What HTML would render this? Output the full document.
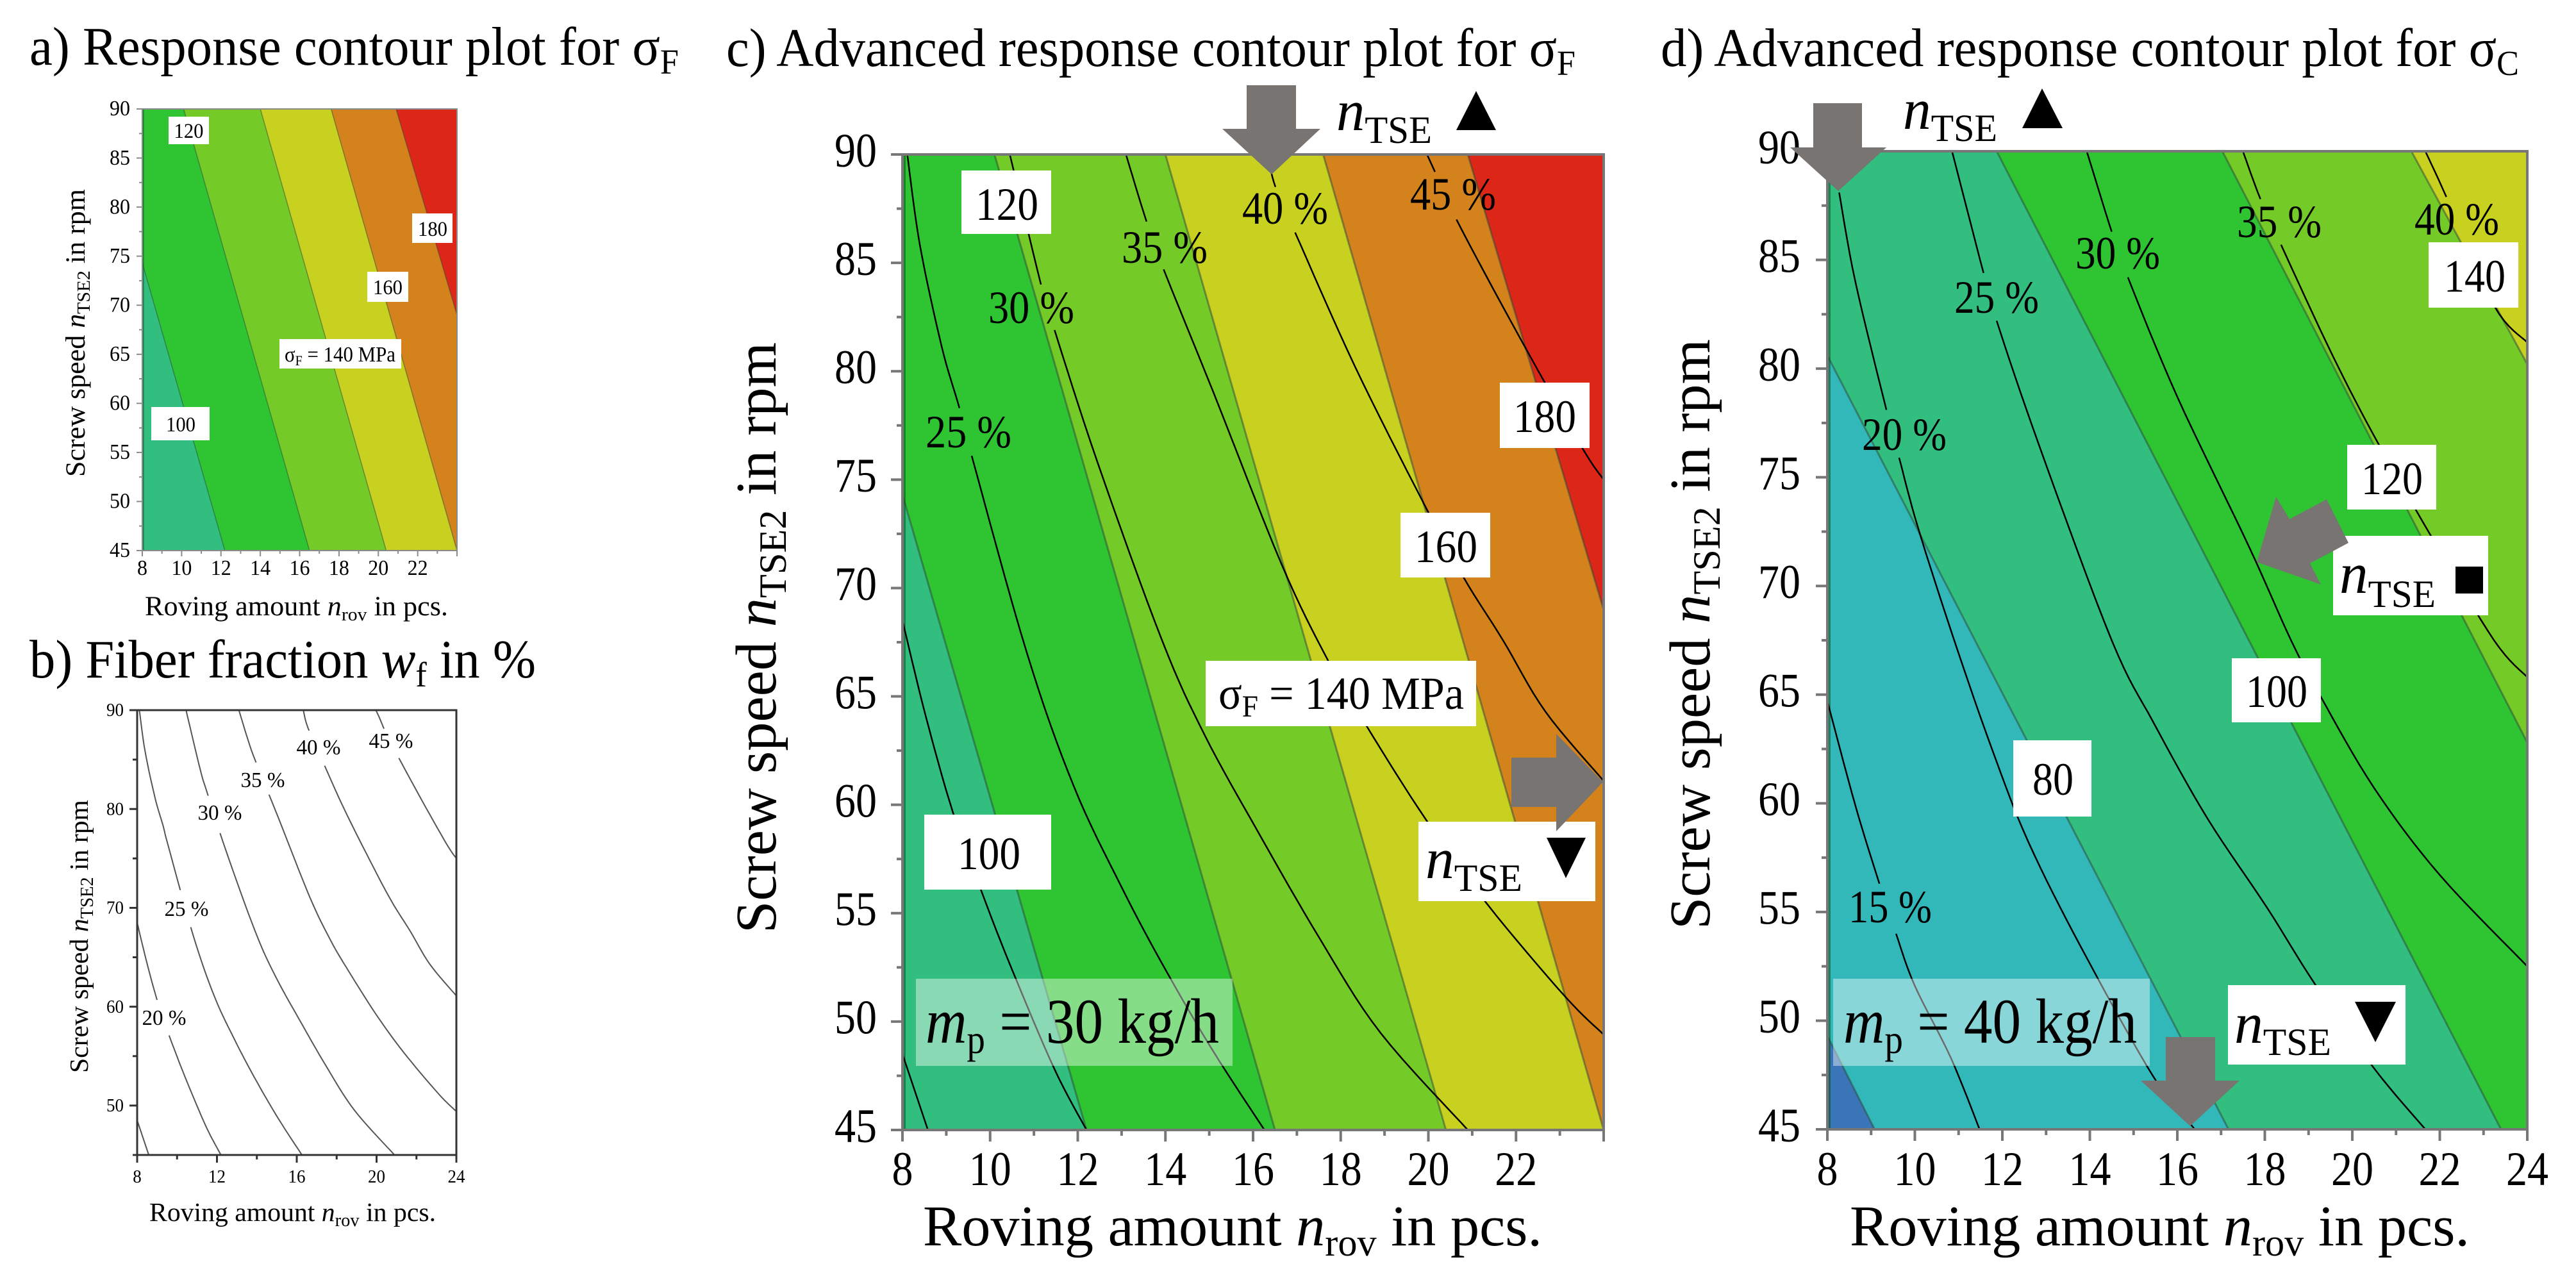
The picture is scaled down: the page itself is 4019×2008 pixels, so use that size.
<!DOCTYPE html>
<html lang="en">
<head>
<meta charset="utf-8">
<title>Response contour plots</title>
<style>
html,body{margin:0;padding:0;background:#fff;width:4019px;height:2008px;overflow:hidden}
svg{display:block}
text{font-family:"Liberation Serif","DejaVu Serif",serif;fill:#000}
.it{font-style:italic}
</style>
</head>
<body>
<svg id="figure" xmlns="http://www.w3.org/2000/svg" width="4019" height="2008" viewBox="0 0 4019 2008">
<rect width="4019" height="2008" fill="#fff"/>

<!-- PANEL A -->
<g>
  <text x="46" y="101" font-size="85" textLength="1013" lengthAdjust="spacingAndGlyphs">a) Response contour plot for σ<tspan font-size="55" dy="14">F</tspan></text>
  <g id="a-bands"></g>
  <g id="a-axes"></g>
  <text transform="translate(132 744) rotate(-90)" font-size="43" textLength="449" lengthAdjust="spacingAndGlyphs">Screw speed <tspan class="it">n</tspan><tspan font-size="29" dy="8">TSE2</tspan><tspan dy="-8"> in rpm</tspan></text>
  <text x="226" y="960" font-size="43" textLength="473" lengthAdjust="spacingAndGlyphs">Roving amount <tspan class="it">n</tspan><tspan font-size="29" dy="8">rov</tspan><tspan dy="-8"> in pcs.</tspan></text>
  <g><rect x="263" y="182" width="63" height="43" fill="#fff"/><text x="294.5" y="204" dy=".33em" text-anchor="middle" font-size="33" textLength="46" lengthAdjust="spacingAndGlyphs">120</text></g>
  <g><rect x="643" y="333" width="63" height="46" fill="#fff"/><text x="675" y="357" dy=".33em" text-anchor="middle" font-size="33" textLength="46" lengthAdjust="spacingAndGlyphs">180</text></g>
  <g><rect x="573" y="424" width="64" height="47" fill="#fff"/><text x="605" y="448" dy=".33em" text-anchor="middle" font-size="33" textLength="46" lengthAdjust="spacingAndGlyphs">160</text></g>
  <g><rect x="436" y="529" width="190" height="46" fill="#fff"/><text x="444" y="564" font-size="34" textLength="173" lengthAdjust="spacingAndGlyphs">σ<tspan font-size="22" dy="6">F</tspan><tspan dy="-6"> = 140 MPa</tspan></text></g>
  <g><rect x="236" y="635" width="91" height="52" fill="#fff"/><text x="282" y="662" dy=".33em" text-anchor="middle" font-size="33" textLength="46" lengthAdjust="spacingAndGlyphs">100</text></g>
</g>

<!-- PANEL B -->
<g>
  <text x="46" y="1057" font-size="85" textLength="790" lengthAdjust="spacingAndGlyphs">b) Fiber fraction <tspan class="it">w</tspan><tspan font-size="55" dy="14">f</tspan><tspan dy="-14"> in %</tspan></text>
  <g id="b-lines"></g>
  <g id="b-axes"></g>
  <text transform="translate(137 1674) rotate(-90)" font-size="41" textLength="426" lengthAdjust="spacingAndGlyphs">Screw speed <tspan class="it">n</tspan><tspan font-size="28" dy="8">TSE2</tspan><tspan dy="-8"> in rpm</tspan></text>
  <text x="233" y="1905" font-size="41" textLength="447" lengthAdjust="spacingAndGlyphs">Roving amount <tspan class="it">n</tspan><tspan font-size="28" dy="8">rov</tspan><tspan dy="-8"> in pcs.</tspan></text>
  <text x="256" y="1588" dy=".33em" text-anchor="middle" font-size="34" textLength="69" lengthAdjust="spacingAndGlyphs">20 %</text>
  <text x="291" y="1418" dy=".33em" text-anchor="middle" font-size="34" textLength="69" lengthAdjust="spacingAndGlyphs">25 %</text>
  <text x="343" y="1268" dy=".33em" text-anchor="middle" font-size="34" textLength="69" lengthAdjust="spacingAndGlyphs">30 %</text>
  <text x="410" y="1217" dy=".33em" text-anchor="middle" font-size="34" textLength="69" lengthAdjust="spacingAndGlyphs">35 %</text>
  <text x="497" y="1166" dy=".33em" text-anchor="middle" font-size="34" textLength="69" lengthAdjust="spacingAndGlyphs">40 %</text>
  <text x="610" y="1156" dy=".33em" text-anchor="middle" font-size="34" textLength="69" lengthAdjust="spacingAndGlyphs">45 %</text>
</g>

<!-- PANEL C -->
<g>
  <text x="1133" y="103" font-size="85" textLength="1325" lengthAdjust="spacingAndGlyphs">c) Advanced response contour plot for σ<tspan font-size="55" dy="14">F</tspan></text>
  <g id="c-bands"></g>
  <g id="c-lines"></g>
  <g id="c-axes"></g>
  <text transform="translate(1210 1456) rotate(-90)" font-size="90" textLength="922" lengthAdjust="spacingAndGlyphs">Screw speed <tspan class="it">n</tspan><tspan font-size="60" dy="16">TSE2</tspan><tspan dy="-16"> in rpm</tspan></text>
  <text x="1440" y="1943" font-size="90" textLength="966" lengthAdjust="spacingAndGlyphs">Roving amount <tspan class="it">n</tspan><tspan font-size="60" dy="16">rov</tspan><tspan dy="-16"> in pcs.</tspan></text>
  <text x="1511" y="674" dy=".33em" text-anchor="middle" font-size="72" textLength="134" lengthAdjust="spacingAndGlyphs">25 %</text>
  <text x="1609" y="480" dy=".33em" text-anchor="middle" font-size="72" textLength="134" lengthAdjust="spacingAndGlyphs">30 %</text>
  <text x="1817" y="386" dy=".33em" text-anchor="middle" font-size="72" textLength="134" lengthAdjust="spacingAndGlyphs">35 %</text>
  <text x="2005" y="325" dy=".33em" text-anchor="middle" font-size="72" textLength="134" lengthAdjust="spacingAndGlyphs">40 %</text>
  <text x="2267" y="303" dy=".33em" text-anchor="middle" font-size="72" textLength="134" lengthAdjust="spacingAndGlyphs">45 %</text>
  <g><rect x="1500" y="266" width="140" height="99" fill="#fff"/><text x="1571" y="319" dy=".33em" text-anchor="middle" font-size="72" textLength="98" lengthAdjust="spacingAndGlyphs">120</text></g>
  <g><rect x="2340" y="597" width="140" height="102" fill="#fff"/><text x="2410" y="650" dy=".33em" text-anchor="middle" font-size="72" textLength="98" lengthAdjust="spacingAndGlyphs">180</text></g>
  <g><rect x="2185" y="800" width="140" height="101" fill="#fff"/><text x="2256" y="853" dy=".33em" text-anchor="middle" font-size="72" textLength="98" lengthAdjust="spacingAndGlyphs">160</text></g>
  <g><rect x="1881" y="1031" width="422" height="102" fill="#fff"/><text x="1901" y="1106" font-size="72" textLength="383" lengthAdjust="spacingAndGlyphs">σ<tspan font-size="48" dy="12">F</tspan><tspan dy="-12"> = 140 MPa</tspan></text></g>
  <g><rect x="1442" y="1271" width="198" height="117" fill="#fff"/><text x="1543" y="1332" dy=".33em" text-anchor="middle" font-size="72" textLength="98" lengthAdjust="spacingAndGlyphs">100</text></g>
  <g><rect x="1429" y="1527" width="494" height="136" fill="#fff" fill-opacity=".42"/><text x="1444" y="1627" font-size="100" textLength="458" lengthAdjust="spacingAndGlyphs"><tspan class="it">m</tspan><tspan font-size="64" dy="16">p</tspan><tspan dy="-16"> = 30 kg/h</tspan></text></g>
  <polygon points="1945,133 2022,133 2022,201 2060,201 1984,272 1907,201 1945,201" fill="#787472"/>
  <text x="2085" y="203" font-size="90" textLength="149" lengthAdjust="spacingAndGlyphs"><tspan class="it">n</tspan><tspan font-size="60" dy="20">TSE</tspan></text>
  <polygon points="2303,142 2334,203 2272,203" fill="#000"/>
  <g><rect x="2213" y="1282" width="276" height="124" fill="#fff"/><text x="2224" y="1370" font-size="90" textLength="151" lengthAdjust="spacingAndGlyphs"><tspan class="it">n</tspan><tspan font-size="60" dy="20">TSE</tspan></text><polygon points="2413,1307 2474,1307 2443,1370" fill="#000"/></g>
  <polygon points="2358,1182 2428,1182 2428,1145 2501,1220 2428,1297 2428,1259 2358,1259" fill="#787472"/>
</g>

<!-- PANEL D -->
<g>
  <text x="2591" y="103" font-size="85" textLength="1339" lengthAdjust="spacingAndGlyphs">d) Advanced response contour plot for σ<tspan font-size="55" dy="14">C</tspan></text>
  <g id="d-bands"></g>
  <g id="d-lines"></g>
  <g id="d-axes"></g>
  <text transform="translate(2667 1450) rotate(-90)" font-size="90" textLength="921" lengthAdjust="spacingAndGlyphs">Screw speed <tspan class="it">n</tspan><tspan font-size="60" dy="16">TSE2</tspan><tspan dy="-16"> in rpm</tspan></text>
  <text x="2886" y="1943" font-size="90" textLength="967" lengthAdjust="spacingAndGlyphs">Roving amount <tspan class="it">n</tspan><tspan font-size="60" dy="16">rov</tspan><tspan dy="-16"> in pcs.</tspan></text>
  <text x="2949" y="1415" dy=".33em" text-anchor="middle" font-size="72" textLength="130" lengthAdjust="spacingAndGlyphs">15 %</text>
  <text x="2971" y="678" dy=".33em" text-anchor="middle" font-size="72" textLength="132" lengthAdjust="spacingAndGlyphs">20 %</text>
  <text x="3115" y="464" dy=".33em" text-anchor="middle" font-size="72" textLength="132" lengthAdjust="spacingAndGlyphs">25 %</text>
  <text x="3304" y="395" dy=".33em" text-anchor="middle" font-size="72" textLength="132" lengthAdjust="spacingAndGlyphs">30 %</text>
  <text x="3556" y="346" dy=".33em" text-anchor="middle" font-size="72" textLength="132" lengthAdjust="spacingAndGlyphs">35 %</text>
  <text x="3833" y="342" dy=".33em" text-anchor="middle" font-size="72" textLength="132" lengthAdjust="spacingAndGlyphs">40 %</text>
  <g><rect x="3789" y="378" width="140" height="102" fill="#fff"/><text x="3861" y="431" dy=".33em" text-anchor="middle" font-size="72" textLength="96" lengthAdjust="spacingAndGlyphs">140</text></g>
  <g><rect x="3662" y="694" width="139" height="101" fill="#fff"/><text x="3732" y="747" dy=".33em" text-anchor="middle" font-size="72" textLength="96" lengthAdjust="spacingAndGlyphs">120</text></g>
  <g><rect x="3482" y="1027" width="139" height="100" fill="#fff"/><text x="3552" y="1079" dy=".33em" text-anchor="middle" font-size="72" textLength="96" lengthAdjust="spacingAndGlyphs">100</text></g>
  <g><rect x="3141" y="1155" width="122" height="119" fill="#fff"/><text x="3203" y="1216" dy=".33em" text-anchor="middle" font-size="72" textLength="64" lengthAdjust="spacingAndGlyphs">80</text></g>
  <g><rect x="2860" y="1527" width="494" height="136" fill="#fff" fill-opacity=".42"/><text x="2876" y="1627" font-size="100" textLength="458" lengthAdjust="spacingAndGlyphs"><tspan class="it">m</tspan><tspan font-size="64" dy="16">p</tspan><tspan dy="-16"> = 40 kg/h</tspan></text></g>
  <polygon points="2829,161 2905,161 2905,230 2943,230 2868,298 2793,230 2829,230" fill="#787472"/>
  <text x="2969" y="201" font-size="90" textLength="147" lengthAdjust="spacingAndGlyphs"><tspan class="it">n</tspan><tspan font-size="60" dy="19">TSE</tspan></text>
  <polygon points="3186,138 3218,200 3155,200" fill="#000"/>
  <g><rect x="3640" y="836" width="242" height="124" fill="#fff"/><text x="3650" y="925" font-size="90" textLength="150" lengthAdjust="spacingAndGlyphs"><tspan class="it">n</tspan><tspan font-size="60" dy="22">TSE</tspan></text><rect x="3831" y="884" width="43" height="42" fill="#000"/></g>
  <polygon points="3521,877 3551,775 3572,810 3630,779 3664,847 3604,879 3621,912" fill="#787472"/>
  <g><rect x="3476" y="1537" width="277" height="124" fill="#fff"/><text x="3486" y="1627" font-size="90" textLength="151" lengthAdjust="spacingAndGlyphs"><tspan class="it">n</tspan><tspan font-size="60" dy="19">TSE</tspan></text><polygon points="3674,1563 3738,1563 3706,1626" fill="#000"/></g>
  <polygon points="3379,1618 3456,1618 3456,1686 3494,1686 3417,1757 3340,1686 3379,1686" fill="#787472"/>
</g>

<script>
// ---- axis ticks (data units) ----
const xMajorTicks = [8, 10, 12, 14, 16, 18, 20, 22, 24];
const xMinorTicks = [9, 11, 13, 15, 17, 19, 21, 23];
const yMajorTicks = [45, 50, 55, 60, 65, 70, 75, 80, 85, 90];
const yMinorTicks = [47.5, 52.5, 57.5, 62.5, 67.5, 72.5, 77.5, 82.5, 87.5];
const xLabelsNoEnd = [8, 10, 12, 14, 16, 18, 20, 22];
const xLabelsFull = [8, 10, 12, 14, 16, 18, 20, 22, 24];
const yLabelsFull = [45, 50, 55, 60, 65, 70, 75, 80, 85, 90];
const fiberXMajorTicks = [8, 12, 16, 20, 24];
const fiberXMinorTicks = [10, 14, 18, 22];
const fiberYMajorTicks = [50, 60, 70, 80, 90];
const fiberYMinorTicks = [45, 55, 65, 75, 85];
const fiberXLabels = [8, 12, 16, 20, 24];
const fiberYLabels = [50, 60, 70, 80, 90];

// ---- sigma_F iso-strength boundaries [rovings, rpm] ----
const flexural100 = [[8, 74.3], [12.2, 45]];
const flexural120 = [[10.1, 90], [16.5, 45]];
const flexural140 = [[14, 90], [20.4, 45]];
const flexural160 = [[17.6, 90], [24, 45]];
const flexural180 = [[20.9, 90], [24, 69]];

// ---- sigma_C iso-strength boundaries [rovings, rpm] ----
const compress60 = [[8, 49.3], [9.08, 45]];
const compress80 = [[8, 80.6], [17.17, 45]];
const compress100 = [[11.87, 90], [23.4, 45]];
const compress120 = [[17.03, 90], [24, 62.8]];
const compress140 = [[21.35, 90], [24, 80.2]];

// ---- fibre fraction isolines for m_p = 30 kg/h [rovings, rpm] ----
const fiberF15 = [[8, 48.5], [8.58, 45]];
const fiberF20 = [[8, 68.5], [8.53, 64.1], [9.16, 59.6], [9.86, 55.7], [10.5, 52.4], [11.47, 47.8], [12.2, 45]];
const fiberF25 = [[8.11, 90], [8.4, 85.8], [8.9, 81.1], [9.3, 78.3], [9.58, 76.1], [10.84, 67], [11.9, 60.9], [13, 56.2], [14, 52.4], [15.1, 48.6], [16.26, 45]];
const fiberF30 = [[10.45, 90], [11.16, 84], [11.47, 81.9], [12.45, 75.8], [13.92, 67.6], [14.9, 63.2], [16.1, 58.8], [17.5, 53.9], [18.9, 49.5], [20.9, 45]];
const fiberF35 = [[13.1, 90], [13.57, 86.9], [13.96, 84.7], [15.1, 79], [16.65, 71.1], [17.7, 66.7], [18.6, 63.6], [19.95, 59.3], [21.35, 55.4], [23.1, 51.2], [24, 49.4]];
const fiberF40 = [[16.33, 90], [16.51, 88.5], [16.96, 86.4], [18.33, 80.2], [19.87, 74], [20.8, 70.5], [21.7, 67.6], [22.67, 64.3], [24, 61.1]];
const fiberF45 = [[19.97, 90], [20.15, 89.2], [20.64, 87], [22.1, 81.5], [23.5, 76.5], [24, 75]];

// ---- fibre fraction isolines for m_p = 40 kg/h [rovings, rpm] ----
const fiberC15 = [[8, 64.7], [8.64, 59.9], [9.19, 56.3], [9.57, 54], [10, 51.6], [10.82, 48.3], [11.48, 45]];
const fiberC20 = [[8.27, 88.1], [8.64, 84], [9.35, 78.1], [9.64, 75.9], [10.07, 72.7], [10.9, 67.5], [11.78, 62.4], [12.6, 58.2], [13.82, 53.3], [15.46, 47.4], [16.4, 45]];
const fiberC25 = [[10.85, 90], [11.57, 84.4], [11.87, 82.2], [12.87, 76.3], [14.5, 67.5], [15.46, 63.7], [16.69, 59.3], [18.05, 55.2], [19.14, 51.7], [20.5, 47.8], [21.67, 45]];
const fiberC30 = [[13.93, 90], [14.5, 86.3], [14.87, 84.2], [16, 78.7], [17.64, 71.8], [18.6, 67.5], [19.28, 64.9], [20.5, 60.7], [22, 56.7], [24, 52.5]];
const fiberC35 = [[17.5, 90], [17.9, 87.8], [18.37, 85.7], [19.55, 80.6], [20.58, 76.6], [21.8, 72.3], [23.24, 67.5], [24, 65.8]];
const fiberC40 = [[21.67, 90], [22.15, 87.9], [23.24, 82.9], [24, 81.2]];

// ---- rpm ranges where an isoline is interrupted by its label ----
const gapsPanelB = [null, [60.5, 57.3], [71.1, 68.5], [80.9, 78.3], [84.3, 81.7], [87.8, 84.9], [88.1, 85.5]];
const gapsPanelC = [null, null, [78.3, 76.1], [84, 81.9], [86.9, 84.7], [88.5, 86.4], [89.2, 87]];
const gapsPanelD = [[56.3, 54], [78.1, 75.9], [84.4, 82.2], [86.3, 84.2], [87.8, 85.7], [87.9, 84]];

const SVGNS = 'http://www.w3.org/2000/svg';
const xDomain = [8, 24];
const yDomain = [45, 90];

function makeScales(left, right, top, bottom) {
  return {
    left, right, top, bottom,
    x: v => left + (v - xDomain[0]) / (xDomain[1] - xDomain[0]) * (right - left),
    y: v => bottom - (v - yDomain[0]) / (yDomain[1] - yDomain[0]) * (bottom - top)
  };
}
const scaleA = makeScales(222, 713, 170, 859);
const scaleB = makeScales(214, 712, 1108, 1802);
const scaleC = makeScales(1408, 2502, 241, 1763);
const scaleD = makeScales(2851, 3943, 236, 1762);

function makeSvg(tag, attrs) {
  const node = document.createElementNS(SVGNS, tag);
  for (const key in attrs) node.setAttribute(key, attrs[key]);
  return node;
}

function drawBands(groupId, s, baseColor, boundaries, colors, strokeWidth) {
  const g = document.getElementById(groupId);
  const base = makeSvg('rect', {x: s.left, y: s.top, width: s.right - s.left, height: s.bottom - s.top, fill: baseColor});
  
  
  g.appendChild(base);
  boundaries.forEach((line, i) => {
    const outline = line.concat([[24, 45], [24, 90], [8, 90]]);
    const band = makeSvg('polygon', {
      points: outline.map(p => s.x(p[0]) + ',' + s.y(p[1])).join(' '),
      fill: colors[i]
    });
    
    
    g.appendChild(band);
    const edge = makeSvg('polyline', {
      points: line.map(p => s.x(p[0]) + ',' + s.y(p[1])).join(' '),
      fill: 'none', stroke: 'rgba(45,70,60,.5)', 'stroke-width': strokeWidth
    });
    
    
    g.appendChild(edge);
  });
  const spine = makeSvg('line', {x1: s.left + strokeWidth, x2: s.left + strokeWidth, y1: s.top, y2: s.bottom, stroke: 'rgba(10,80,30,.55)', 'stroke-width': strokeWidth + 1});
  
  
  g.appendChild(spine);
}

// Catmull-Rom smoothing, evaluated at draw time
function smooth(points) {
  if (points.length < 3) return points.slice();
  const out = [];
  for (let i = 0; i < points.length - 1; i++) {
    const p0 = points[Math.max(i - 1, 0)], p1 = points[i], p2 = points[i + 1], p3 = points[Math.min(i + 2, points.length - 1)];
    for (let t = 0; t < 1; t += 0.125) {
      const t2 = t * t, t3 = t2 * t;
      const f = k => 0.5 * (2 * p1[k] + (p2[k] - p0[k]) * t + (2 * p0[k] - 5 * p1[k] + 4 * p2[k] - p3[k]) * t2 + (3 * p1[k] - p0[k] - 3 * p2[k] + p3[k]) * t3);
      out.push([f(0), f(1)]);
    }
  }
  out.push(points[points.length - 1]);
  return out;
}

function splitAtGap(points, gap) {
  if (!gap) return [points];
  const above = points.filter(p => p[1] >= gap[0]);
  const below = points.filter(p => p[1] <= gap[1]);
  return [above, below].filter(part => part.length > 1);
}

function drawFiberLines(groupId, s, lines, gaps, color, width) {
  const g = document.getElementById(groupId);
  lines.forEach((line, i) => {
    splitAtGap(smooth(line), gaps[i]).forEach(part => {
      const mark = makeSvg('polyline', {
        points: part.map(p => s.x(p[0]).toFixed(1) + ',' + s.y(p[1]).toFixed(1)).join(' '),
        fill: 'none', stroke: color, 'stroke-width': width, 'stroke-linejoin': 'round'
      });
      
      
      g.appendChild(mark);
    });
  });
}

function drawAxes(groupId, s, cfg) {
  const g = document.getElementById(groupId);
  const frame = makeSvg('rect', {x: s.left, y: s.top, width: s.right - s.left, height: s.bottom - s.top, fill: 'none', stroke: cfg.color, 'stroke-width': cfg.width});
  
  
  g.appendChild(frame);
  cfg.xMajor.forEach(v => {
    const tick = makeSvg('line', {x1: s.x(v), x2: s.x(v), y1: s.bottom, y2: s.bottom + cfg.major, stroke: cfg.color, 'stroke-width': cfg.width});
    
    
    g.appendChild(tick);
  });
  cfg.xMinor.forEach(v => {
    const tick = makeSvg('line', {x1: s.x(v), x2: s.x(v), y1: s.bottom, y2: s.bottom + cfg.minor, stroke: cfg.color, 'stroke-width': cfg.width});
    
    
    g.appendChild(tick);
  });
  cfg.yMajor.forEach(v => {
    const tick = makeSvg('line', {x1: s.left - cfg.major, x2: s.left, y1: s.y(v), y2: s.y(v), stroke: cfg.color, 'stroke-width': cfg.width});
    
    
    g.appendChild(tick);
  });
  cfg.yMinor.forEach(v => {
    const tick = makeSvg('line', {x1: s.left - cfg.minor, x2: s.left, y1: s.y(v), y2: s.y(v), stroke: cfg.color, 'stroke-width': cfg.width});
    
    
    g.appendChild(tick);
  });
  cfg.xLabels.forEach(v => {
    const label = makeSvg('text', {x: s.x(v), y: s.bottom + cfg.xLabelOffset + cfg.font * 0.33, 'text-anchor': 'middle', 'font-size': cfg.font, textLength: String(v).length * cfg.digit, lengthAdjust: 'spacingAndGlyphs'});
    
    
    label.textContent = v;
    g.appendChild(label);
  });
  cfg.yLabels.forEach(v => {
    const label = makeSvg('text', {x: s.left - cfg.yLabelOffset, y: s.y(v) + cfg.yLabelShift + cfg.font * 0.33, 'text-anchor': 'end', 'font-size': cfg.font, textLength: String(v).length * cfg.digit, lengthAdjust: 'spacingAndGlyphs'});
    
    
    label.textContent = v;
    g.appendChild(label);
  });
}

const flexuralBoundaries = [flexural100, flexural120, flexural140, flexural160, flexural180];
const flexuralColors = ['#2EC432', '#74CB28', '#C8D11F', '#D4821C', '#DC2617'];
const compressBoundaries = [compress60, compress80, compress100, compress120, compress140];
const compressColors = ['#33B8BA', '#32BE7E', '#2EC432', '#74CB28', '#C8D11F'];
const fiberLinesF = [fiberF15, fiberF20, fiberF25, fiberF30, fiberF35, fiberF40, fiberF45];
const fiberLinesC = [fiberC15, fiberC20, fiberC25, fiberC30, fiberC35, fiberC40];

drawBands('a-bands', scaleA, '#32BE7E', flexuralBoundaries, flexuralColors, 1.5);
drawBands('c-bands', scaleC, '#32BE7E', flexuralBoundaries, flexuralColors, 3);
drawBands('d-bands', scaleD, '#3A75B7', compressBoundaries, compressColors, 3);

drawFiberLines('b-lines', scaleB, fiberLinesF, gapsPanelB, '#555', 2);
drawFiberLines('c-lines', scaleC, fiberLinesF, gapsPanelC, '#000', 2.5);
drawFiberLines('d-lines', scaleD, fiberLinesC, gapsPanelD, '#000', 2.5);

drawAxes('a-axes', scaleA, {color: '#8a8a8a', width: 2, major: 9, minor: 5, font: 34, digit: 16, xLabelOffset: 27, yLabelOffset: 19, yLabelShift: -1, xMajor: xMajorTicks, xMinor: xMinorTicks, yMajor: yMajorTicks, yMinor: yMinorTicks, xLabels: xLabelsNoEnd, yLabels: yLabelsFull});
drawAxes('b-axes', scaleB, {color: '#333', width: 3, major: 12, minor: 7, font: 28, digit: 13.5, xLabelOffset: 34, yLabelOffset: 21, yLabelShift: 0, xMajor: fiberXMajorTicks, xMinor: fiberXMinorTicks, yMajor: fiberYMajorTicks, yMinor: fiberYMinorTicks, xLabels: fiberXLabels, yLabels: fiberYLabels});
drawAxes('c-axes', scaleC, {color: '#777', width: 4, major: 18, minor: 9, font: 75, digit: 33, xLabelOffset: 61, yLabelOffset: 40, yLabelShift: -6, xMajor: xMajorTicks, xMinor: xMinorTicks, yMajor: yMajorTicks, yMinor: yMinorTicks, xLabels: xLabelsNoEnd, yLabels: yLabelsFull});
drawAxes('d-axes', scaleD, {color: '#777', width: 4, major: 18, minor: 9, font: 75, digit: 33, xLabelOffset: 62, yLabelOffset: 42, yLabelShift: -6, xMajor: xMajorTicks, xMinor: xMinorTicks, yMajor: yMajorTicks, yMinor: yMinorTicks, xLabels: xLabelsFull, yLabels: yLabelsFull});
</script>
</svg>
</body>
</html>
